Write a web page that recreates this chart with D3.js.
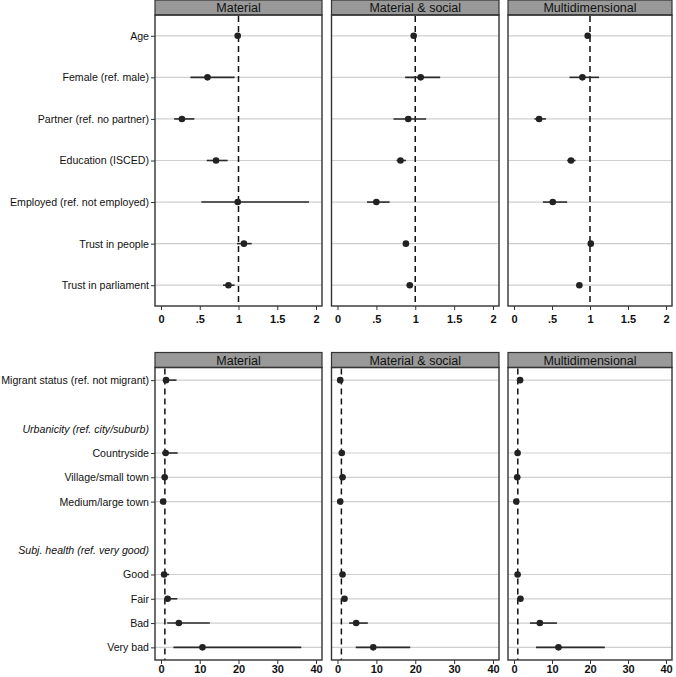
<!DOCTYPE html>
<html><head><meta charset="utf-8">
<script src="https://cdn.jsdelivr.net/npm/d3@7"></script>
<style>body{margin:0;background:#fff}svg{display:block}text{font-family:"Liberation Sans",Arial,sans-serif}</style>
</head><body>
<script>
const panelTitles = ["Material", "Material & social", "Multidimensional"];

const topLabels = ["Age","Female (ref. male)","Partner (ref. no partner)","Education (ISCED)","Employed (ref. not employed)","Trust in people","Trust in parliament"];
const topTicks = [0, 0.5, 1, 1.5, 2];
const topTickLabels = ["0", ".5", "1", "1.5", "2"];
// [estimate, lower, upper] per panel
const topMaterial = [[0.99,0.97,1.01],[0.60,0.38,0.95],[0.27,0.17,0.43],[0.71,0.59,0.86],[0.99,0.52,1.91],[1.07,0.98,1.17],[0.87,0.80,0.95]];
const topMatSocial = [[0.98,0.96,1.00],[1.07,0.87,1.32],[0.91,0.72,1.14],[0.81,0.76,0.88],[0.50,0.38,0.67],[0.88,0.86,0.91],[0.93,0.89,0.96]];
const topMulti = [[0.97,0.95,0.99],[0.90,0.73,1.12],[0.33,0.27,0.42],[0.75,0.70,0.81],[0.51,0.38,0.70],[1.01,0.99,1.02],[0.86,0.84,0.89]];

const bottomLabels = ["Migrant status (ref. not migrant)","","Urbanicity (ref. city/suburb)","Countryside","Village/small town","Medium/large town","","Subj. health (ref. very good)","Good","Fair","Bad","Very bad"];
const bottomHeaders = [2, 7];
const bottomTicks = [0, 10, 20, 30, 40];
const bottomMaterial = [[1.3,0.5,4.0],null,null,[1.2,0.3,4.3],[0.95,0.6,1.5],[0.55,0.3,1.0],null,null,[0.8,0.4,2.1],[1.7,1.1,4.2],[4.6,1.6,12.6],[10.7,3.2,36.2]];
const bottomMatSocial = [[0.7,0.4,1.2],null,null,[1.1,0.7,1.6],[1.3,0.9,1.8],[0.7,0.5,1.0],null,null,[1.3,0.9,1.8],[1.8,1.3,2.5],[4.8,3.0,7.8],[9.2,4.7,18.7]];
const bottomMulti = [[1.6,1.0,2.3],null,null,[0.95,0.6,1.4],[0.85,0.6,1.2],[0.6,0.4,0.9],null,null,[0.95,0.7,1.3],[1.7,1.2,2.4],[6.8,4.2,11.3],[11.7,5.8,23.9]];

const W = 676, H = 677;
const svg = d3.select("body").append("svg").attr("width", W).attr("height", H);
const panelX = [[155, 322], [331.5, 499], [508, 672]];
const hdrH = 15;

function drawBlock(opt) {
  const {top, bottom, labels, data, ticks, tickLabels, domain, headers, pad, tickPad} = opt;
  const y = d3.scalePoint().domain(d3.range(labels.length)).range([top + hdrH, bottom]).padding(pad);
  panelX.forEach(([x0, x1], p) => {
    const g = svg.append("g");
    const x = d3.scaleLinear().domain(domain).range([x0 + 6, x1 - 6]);
    // header
    g.append("rect").attr("x", x0).attr("y", top).attr("width", x1 - x0).attr("height", hdrH)
      .attr("fill", "#999").attr("stroke", "#333").attr("stroke-width", 1.2);
    g.append("text").attr("x", (x0 + x1) / 2).attr("y", top + hdrH / 2 + 4.5)
      .attr("text-anchor", "middle").attr("font-size", 12.5).attr("fill", "#111").text(panelTitles[p]);
    // gridlines
    data[p].forEach((d, i) => {
      if (!d) return;
      g.append("line").attr("x1", x0).attr("x2", x1).attr("y1", y(i)).attr("y2", y(i))
        .attr("stroke", "#cfcfcf").attr("stroke-width", 1.2);
    });
    // reference line
    g.append("line").attr("x1", x(1)).attr("x2", x(1)).attr("y1", top + hdrH + 1).attr("y2", bottom)
      .attr("stroke", "#111").attr("stroke-width", 1.5).attr("stroke-dasharray", "6,4");
    // CIs and points
    data[p].forEach((d, i) => {
      if (!d) return;
      g.append("line").attr("x1", x(d[1])).attr("x2", x(d[2])).attr("y1", y(i)).attr("y2", y(i))
        .attr("stroke", "#2a2a2a").attr("stroke-width", 1.6);
      g.append("circle").attr("cx", x(d[0])).attr("cy", y(i)).attr("r", 3.3).attr("fill", "#222");
    });
    // frame
    g.append("rect").attr("x", x0).attr("y", top + hdrH).attr("width", x1 - x0).attr("height", bottom - top - hdrH)
      .attr("fill", "none").attr("stroke", "#333").attr("stroke-width", 1.4);
    // x axis
    const ax = g.append("g").attr("transform", `translate(0,${bottom})`)
      .call(d3.axisBottom(x).tickValues(ticks).tickSize(4).tickPadding(tickPad).tickFormat((v, k) => tickLabels[k]));
    ax.select(".domain").remove();
    ax.selectAll("line").attr("stroke", "#333");
    ax.selectAll("text").attr("font-size", 11).attr("fill", "#111").attr("font-family", "Liberation Sans, Arial, sans-serif").attr("font-weight", "bold").attr("dy", "0.71em");
    // y axis on first panel
    if (p === 0) {
      const ay = g.append("g").attr("transform", `translate(${x0},0)`)
        .call(d3.axisLeft(y).tickSize(4).tickPadding(2).tickFormat(i => labels[i]));
      ay.select(".domain").remove();
      ay.selectAll(".tick").each(function(i) {
        const t = d3.select(this);
        if (labels[i] === "") t.remove();
        else if (headers.includes(i)) { t.select("line").remove(); t.select("text").attr("font-style", "italic").attr("x", -6); }
      });
      ay.selectAll("line").attr("stroke", "#333");
      ay.selectAll("text").attr("font-size", 10.6).attr("fill", "#111").attr("font-family", "Liberation Sans, Arial, sans-serif");
    }
  });
}

drawBlock({top: 0, bottom: 306, labels: topLabels, data: [topMaterial, topMatSocial, topMulti],
  ticks: topTicks, tickLabels: topTickLabels, domain: [0, 2], headers: [], pad: 0.5, tickPad: 5});
drawBlock({top: 352.5, bottom: 660, labels: bottomLabels, data: [bottomMaterial, bottomMatSocial, bottomMulti],
  ticks: bottomTicks, tickLabels: bottomTicks.map(String), domain: [0, 40], headers: bottomHeaders, pad: 0.52, tickPad: 1});
</script>
</body></html>
